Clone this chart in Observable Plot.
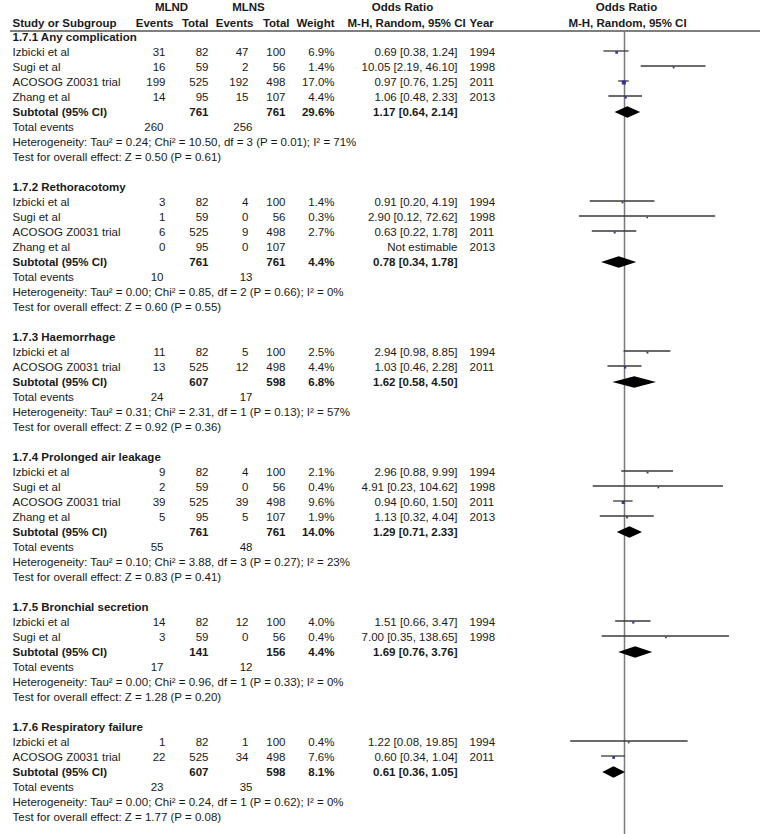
<!DOCTYPE html>
<html>
<head>
<meta charset="utf-8">
<script src="https://cdn.jsdelivr.net/npm/d3@7"></script>
<script src="https://cdn.jsdelivr.net/npm/@observablehq/plot@0.6"></script>
<style>
  html, body { margin: 0; padding: 0; background: #fff; }
  #chart { width: 760px; height: 834px; }
</style>
</head>
<body>
<div id="chart"></div>
<script>
// ---------- data ----------
const groups = [
  "1.7.1 Any complication",
  "1.7.2 Rethoracotomy",
  "1.7.3 Haemorrhage",
  "1.7.4 Prolonged air leakage",
  "1.7.5 Bronchial secretion",
  "1.7.6 Respiratory failure"
];
const studyGroup = [0,0,0,0, 1,1,1,1, 2,2, 3,3,3,3, 4,4, 5,5];
const studyName = [
  "Izbicki et al","Sugi et al","ACOSOG Z0031 trial","Zhang et al",
  "Izbicki et al","Sugi et al","ACOSOG Z0031 trial","Zhang et al",
  "Izbicki et al","ACOSOG Z0031 trial",
  "Izbicki et al","Sugi et al","ACOSOG Z0031 trial","Zhang et al",
  "Izbicki et al","Sugi et al",
  "Izbicki et al","ACOSOG Z0031 trial"
];
const eventsMLND = [31,16,199,14, 3,1,6,0, 11,13, 9,2,39,5, 14,3, 1,22];
const totalMLND  = [82,59,525,95, 82,59,525,95, 82,525, 82,59,525,95, 82,59, 82,525];
const eventsMLNS = [47,2,192,15, 4,0,9,0, 5,12, 4,0,39,5, 12,0, 1,34];
const totalMLNS  = [100,56,498,107, 100,56,498,107, 100,498, 100,56,498,107, 100,56, 100,498];
const weight     = [6.9,1.4,17.0,4.4, 1.4,0.3,2.7,null, 2.5,4.4, 2.1,0.4,9.6,1.9, 4.0,0.4, 0.4,7.6];
const oddsRatio  = [0.69,10.05,0.97,1.06, 0.91,2.90,0.63,null, 2.94,1.03, 2.96,4.91,0.94,1.13, 1.51,7.00, 1.22,0.60];
const ciLow      = [0.38,2.19,0.76,0.48, 0.20,0.12,0.22,null, 0.98,0.46, 0.88,0.23,0.60,0.32, 0.66,0.35, 0.08,0.34];
const ciHigh     = [1.24,46.10,1.25,2.33, 4.19,72.62,1.78,null, 8.85,2.28, 9.99,104.62,1.50,4.04, 3.47,138.65, 19.85,1.04];
const year       = [1994,1998,2011,2013, 1994,1998,2011,2013, 1994,2011, 1994,1998,2011,2013, 1994,1998, 1994,2011];

const subTotalMLND = [761,761,607,761,141,607];
const subTotalMLNS = [761,761,598,761,156,598];
const subWeight    = [29.6,4.4,6.8,14.0,4.4,8.1];
const subOR        = [1.17,0.78,1.62,1.29,1.69,0.61];
const subLow       = [0.64,0.34,0.58,0.71,0.76,0.36];
const subHigh      = [2.14,1.78,4.50,2.33,3.76,1.05];
const totEventsMLND = [260,10,24,55,17,23];
const totEventsMLNS = [256,13,17,48,12,35];
const heterogeneity = [
  "Heterogeneity: Tau² = 0.24; Chi² = 10.50, df = 3 (P = 0.01); I² = 71%",
  "Heterogeneity: Tau² = 0.00; Chi² = 0.85, df = 2 (P = 0.66); I² = 0%",
  "Heterogeneity: Tau² = 0.31; Chi² = 2.31, df = 1 (P = 0.13); I² = 57%",
  "Heterogeneity: Tau² = 0.10; Chi² = 3.88, df = 3 (P = 0.27); I² = 23%",
  "Heterogeneity: Tau² = 0.00; Chi² = 0.96, df = 1 (P = 0.33); I² = 0%",
  "Heterogeneity: Tau² = 0.00; Chi² = 0.24, df = 1 (P = 0.62); I² = 0%"
];
const overallEffect = [
  "Test for overall effect: Z = 0.50 (P = 0.61)",
  "Test for overall effect: Z = 0.60 (P = 0.55)",
  "Test for overall effect: Z = 0.92 (P = 0.36)",
  "Test for overall effect: Z = 0.83 (P = 0.41)",
  "Test for overall effect: Z = 1.28 (P = 0.20)",
  "Test for overall effect: Z = 1.77 (P = 0.08)"
];
const headerTop = ["MLND","MLNS","Odds Ratio","Odds Ratio"];
const headerBottom = ["Study or Subgroup","Events","Total","Events","Total","Weight","M-H, Random, 95% CI","Year","M-H, Random, 95% CI"];
const axisDomain = [0.01, 100];

// ---------- build rows ----------
const f2 = v => v.toFixed(2);
const ciText = (e, l, h) => `${f2(e)} [${f2(l)}, ${f2(h)}]`;
const rows = [];
const studies = [];
const subtotals = [];
let k = 0;
groups.forEach((g, gi) => {
  rows.push({k, type: "group", label: g});
  const idx = studyGroup.map((s, i) => s === gi ? i : -1).filter(i => i >= 0);
  idx.forEach((i, j) => {
    const r = {
      k: k + j + 1, type: "study", label: studyName[i],
      evA: eventsMLND[i], totA: totalMLND[i], evB: eventsMLNS[i], totB: totalMLNS[i],
      w: weight[i], or: oddsRatio[i], lo: ciLow[i], hi: ciHigh[i], year: year[i]
    };
    rows.push(r); studies.push(r);
  });
  const n = idx.length;
  const s = {k: k + n + 1, type: "subtotal", label: "Subtotal (95% CI)", g: gi,
    totA: subTotalMLND[gi], totB: subTotalMLNS[gi], w: subWeight[gi],
    or: subOR[gi], lo: subLow[gi], hi: subHigh[gi]};
  rows.push(s); subtotals.push(s);
  rows.push({k: k + n + 2, type: "events", label: "Total events", evA: totEventsMLND[gi], evB: totEventsMLNS[gi]});
  rows.push({k: k + n + 3, type: "note", label: heterogeneity[gi]});
  rows.push({k: k + n + 4, type: "note", label: overallEffect[gi]});
  k += n + 6;
});

const diamondPts = subtotals.flatMap(s => [
  {g: s.g, x: s.lo, y1: s.k, y2: s.k},
  {g: s.g, x: s.or, y1: s.k - 0.38, y2: s.k + 0.38},
  {g: s.g, x: s.hi, y1: s.k, y2: s.k}
]);
const estStudies = studies.filter(d => d.or != null);
const boldRows = rows.filter(d => d.type === "group" || d.type === "subtotal");
const plainRows = rows.filter(d => !(d.type === "group" || d.type === "subtotal"));
const eventRows = rows.filter(d => d.type === "events");

// ---------- layout ----------
const col = {name: 12, evA: 165, totA: 208, evB: 248, totB: 285, w: 334, ci: 457, year: 469};
const TXT = "#1a1a1a";

const txt = (data, opts) => Plot.text(data, {frameAnchor: "left", fill: TXT, ...opts});
const hdr = (kk, t, dx, anchor) =>
  txt([{k: kk, t}], {y: "k", text: "t", dx, textAnchor: anchor, fontWeight: "bold"});

const marks = [
  // header
  hdr(-2, headerTop[0], 171, "middle"),
  hdr(-2, headerTop[1], 248, "middle"),
  hdr(-2, headerTop[2], 402, "middle"),
  hdr(-2, headerTop[3], 626, "middle"),
  hdr(-0.93, headerBottom[0], col.name, "start"),
  hdr(-0.93, headerBottom[1], 173, "end"),
  hdr(-0.93, headerBottom[2], 208, "end"),
  hdr(-0.93, headerBottom[3], 253, "end"),
  hdr(-0.93, headerBottom[4], 289, "end"),
  hdr(-0.93, headerBottom[5], 334, "end"),
  hdr(-0.93, headerBottom[6], 347, "start"),
  hdr(-0.93, headerBottom[7], 469, "start"),
  hdr(-0.93, headerBottom[8], 627, "middle"),
  Plot.ruleY([-0.43], {stroke: "#555", strokeWidth: 1.5, insetLeft: 10}),

  // row labels
  txt(boldRows, {y: "k", text: "label", dx: col.name, textAnchor: "start", fontWeight: "bold"}),
  txt(plainRows, {y: "k", text: "label", dx: col.name, textAnchor: "start"}),
  // study columns
  txt(studies, {y: "k", text: d => String(d.evA), dx: col.evA, textAnchor: "end"}),
  txt(studies, {y: "k", text: d => String(d.totA), dx: col.totA, textAnchor: "end"}),
  txt(studies, {y: "k", text: d => String(d.evB), dx: col.evB, textAnchor: "end"}),
  txt(studies, {y: "k", text: d => String(d.totB), dx: col.totB, textAnchor: "end"}),
  txt(studies, {y: "k", text: d => d.w == null ? "" : d.w.toFixed(1) + "%", dx: col.w, textAnchor: "end"}),
  txt(studies, {y: "k", text: d => d.or == null ? "Not estimable" : ciText(d.or, d.lo, d.hi), dx: col.ci, textAnchor: "end"}),
  txt(studies, {y: "k", text: d => String(d.year), dx: col.year, textAnchor: "start"}),
  // subtotals
  txt(subtotals, {y: "k", text: d => String(d.totA), dx: col.totA, textAnchor: "end", fontWeight: "bold"}),
  txt(subtotals, {y: "k", text: d => String(d.totB), dx: col.totB, textAnchor: "end", fontWeight: "bold"}),
  txt(subtotals, {y: "k", text: d => d.w.toFixed(1) + "%", dx: col.w, textAnchor: "end", fontWeight: "bold"}),
  txt(subtotals, {y: "k", text: d => ciText(d.or, d.lo, d.hi), dx: col.ci, textAnchor: "end", fontWeight: "bold"}),
  // total events
  txt(eventRows, {y: "k", text: d => String(d.evA), dx: 163, textAnchor: "end"}),
  txt(eventRows, {y: "k", text: d => String(d.evB), dx: 252, textAnchor: "end"}),

  // forest plot
  Plot.ruleX([1], {y1: -0.43, y2: 54, stroke: "#7a7a7a", strokeWidth: 1.5}),
  Plot.ruleY(estStudies, {y: d => d.k - 0.1, x1: "lo", x2: "hi", stroke: "#3a3a3a", strokeWidth: 1.3}),
  Plot.dot(estStudies, {x: "or", y: "k", r: "w", symbol: "square", fill: "#34349a", stroke: "none"}),
  Plot.areaY(diamondPts, {x: "x", y1: "y1", y2: "y2", z: "g", fill: "#000", curve: "linear"})
];

const chart = Plot.plot({
  width: 760,
  height: 834,
  margin: 0,
  style: {fontFamily: "'Liberation Sans', Arial, sans-serif", fontSize: "11.5px", background: "#fff"},
  x: {type: "log", domain: axisDomain, range: [526, 722], axis: null},
  y: {domain: [-37 / 15, (834 - 37) / 15], range: [0, 834], axis: null},
  r: {type: "linear", domain: [0, 17], range: [0.9, 2.3]},
  marks
});
document.getElementById("chart").appendChild(chart);
</script>
</body>
</html>
